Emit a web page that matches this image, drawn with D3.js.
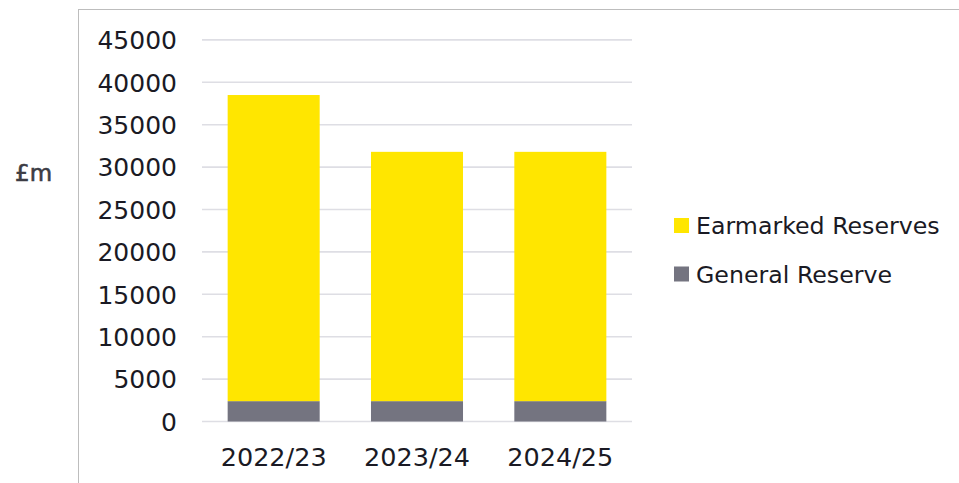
<!DOCTYPE html>
<html>
<head>
<meta charset="utf-8">
<script src="https://cdn.jsdelivr.net/npm/d3@7"></script>
<style>
  html, body { margin: 0; padding: 0; background: #fff; }
  svg { display: block; font-family: "DejaVu Sans", sans-serif; }
</style>
</head>
<body>
<svg id="chart" width="959" height="483"></svg>
<script>
// ---- data ----
const categories = ["2022/23", "2023/24", "2024/25"];
const generalReserve = [2400, 2400, 2400];
const earmarkedReserves = [36100, 29400, 29400];
const seriesNames = ["General Reserve", "Earmarked Reserves"];
const seriesColors = ["#747480", "#FFE600"];
const yTicks = [0, 5000, 10000, 15000, 20000, 25000, 30000, 35000, 40000, 45000];
const yLabel = "£m";

// ---- layout ----
const W = 959, H = 483;
const plot = { left: 202, right: 632, top: 39.9, bottom: 421.5 };

const svg = d3.select("#chart");

// outer border (extends beyond canvas on right/bottom)
svg.append("rect")
  .attr("x", 78.5).attr("y", 9.5)
  .attr("width", 1000).attr("height", 600)
  .attr("fill", "none").attr("stroke", "#bdbdbd").attr("stroke-width", 1);

const rows = categories.map((c, i) => ({
  cat: c,
  "General Reserve": generalReserve[i],
  "Earmarked Reserves": earmarkedReserves[i]
}));

const x = d3.scaleBand().domain(categories)
  .range([plot.left, plot.right])
  .paddingInner(0.358).paddingOuter(0.179);
const y = d3.scaleLinear().domain([0, 45000]).range([plot.bottom, plot.top]);
const color = d3.scaleOrdinal().domain(seriesNames).range(seriesColors);

// gridlines
svg.append("g").selectAll("line").data(yTicks).join("line")
  .attr("x1", plot.left).attr("x2", plot.right)
  .attr("y1", d => y(d)).attr("y2", d => y(d))
  .attr("stroke", "#dedee4").attr("stroke-width", 1.6);

// y axis labels
const yAxis = d3.axisLeft(y).tickValues(yTicks).tickSize(0).tickPadding(0).tickFormat(d3.format("d"));
const gy = svg.append("g").attr("transform", "translate(177,0)").call(yAxis);
gy.select(".domain").remove();
gy.selectAll("text")
  .attr("font-family", "DejaVu Sans, sans-serif")
  .attr("font-size", 25).attr("fill", "#1a1a24")
  .attr("dy", "0.35em");

// bars
const stack = d3.stack().keys(seriesNames);
const stacked = stack(rows);
svg.append("g").selectAll("g").data(stacked).join("g")
  .attr("fill", d => color(d.key))
  .selectAll("rect").data(d => d).join("rect")
  .attr("x", d => x(d.data.cat))
  .attr("width", x.bandwidth())
  .attr("y", d => y(d[1]))
  .attr("height", d => y(d[0]) - y(d[1]));

// x axis labels
const xAxis = d3.axisBottom(x).tickSize(0).tickPadding(0);
const gx = svg.append("g").attr("transform", "translate(0,466)").call(xAxis);
gx.select(".domain").remove();
gx.selectAll("text")
  .attr("font-family", "DejaVu Sans, sans-serif")
  .attr("font-size", 25.5).attr("fill", "#1a1a24")
  .attr("dy", 0).attr("y", 0);

// y label
svg.append("text").attr("x", 15).attr("y", 181)
  .attr("font-size", 23).attr("fill", "#3c3c44")
  .attr("stroke", "#3c3c44").attr("stroke-width", 0.6)
  .text(yLabel);

// legend
const legendItems = [seriesNames[1], seriesNames[0]];
const lg = svg.append("g").selectAll("g").data(legendItems).join("g")
  .attr("transform", (d, i) => `translate(674,${218 + i * 48.5})`);
lg.append("rect").attr("width", 15).attr("height", 15).attr("fill", d => color(d));
lg.append("text").attr("x", 22).attr("y", 16)
  .attr("font-size", 23.7).attr("fill", "#1a1a24")
  .text(d => d);
</script>
</body>
</html>
